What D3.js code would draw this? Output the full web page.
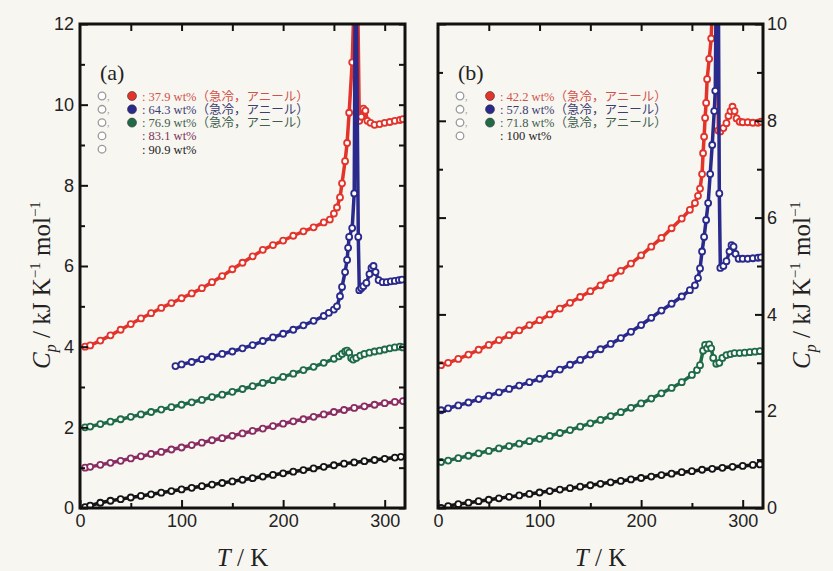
<!DOCTYPE html>
<html>
<head>
<meta charset="utf-8">
<script src="https://cdn.jsdelivr.net/npm/d3@7"></script>
<style>
  body { margin: 0; background: #f8f6f1; }
  svg { font-family: "Liberation Serif", "Times New Roman", Tinos, serif; }
  .jp { font-family: "Liberation Serif", "Times New Roman", "Noto Sans CJK JP", serif; }
</style>
</head>
<body>
<svg id="chart" width="833" height="571"></svg>
<script>
// panel (a) series: [T / K, Cp / kJ K-1 mol-1]
const a379 = [[5,4.0],[10,4.03],[20,4.15],[30,4.28],[40,4.42],[50,4.56],[60,4.7],[70,4.83],[80,4.96],[90,5.08],[100,5.2],[110,5.32],[120,5.45],[130,5.6],[140,5.75],[150,5.92],[160,6.08],[170,6.24],[180,6.4],[190,6.52],[200,6.63],[210,6.75],[220,6.86],[230,6.96],[240,7.08],[246,7.15],[250,7.3],[253,7.45],[256,7.7],[258,8.05],[261,8.6],[263,9.05],[265,9.8],[268,11.05],[271,13.5],[273,13.5],[275,9.6],[277,9.7],[279,9.9],[281,9.85],[283,9.6],[286,9.55],[290,9.5],[295,9.52],[300,9.55],[305,9.57],[310,9.6],[315,9.62],[318,9.64]];
const a643 = [[94,3.52],[100,3.56],[110,3.62],[120,3.69],[130,3.75],[140,3.82],[150,3.88],[160,3.96],[170,4.04],[180,4.14],[190,4.23],[200,4.32],[210,4.42],[220,4.53],[230,4.64],[240,4.76],[245,4.84],[250,4.92],[253,5.0],[256,5.25],[258,5.48],[261,5.85],[263,6.15],[264,6.45],[265,6.72],[268,6.94],[270,7.8],[271,13],[272,13],[274,6.72],[275,5.4],[277,5.45],[279,5.5],[282,5.58],[285,5.8],[287,5.95],[289,6.0],[291,5.85],[294,5.65],[298,5.6],[302,5.6],[306,5.62],[310,5.63],[314,5.65],[317,5.66]];
const a769 = [[5,2.0],[10,2.02],[20,2.08],[30,2.14],[40,2.2],[50,2.26],[60,2.32],[70,2.38],[80,2.44],[90,2.5],[100,2.56],[110,2.62],[120,2.68],[130,2.75],[140,2.81],[150,2.88],[160,2.95],[170,3.02],[180,3.1],[190,3.17],[200,3.25],[210,3.33],[220,3.42],[230,3.5],[240,3.6],[250,3.7],[255,3.76],[258,3.82],[261,3.88],[263,3.9],[265,3.85],[267,3.72],[269,3.68],[272,3.72],[276,3.78],[280,3.82],[285,3.85],[290,3.88],[295,3.9],[300,3.93],[305,3.96],[310,3.98],[315,4.0],[318,3.98]];
const a831 = [[5,1.0],[10,1.02],[20,1.07],[30,1.12],[40,1.17],[50,1.23],[60,1.28],[70,1.34],[80,1.39],[90,1.45],[100,1.5],[110,1.56],[120,1.62],[130,1.68],[140,1.73],[150,1.79],[160,1.85],[170,1.91],[180,1.97],[190,2.03],[200,2.09],[210,2.15],[220,2.2],[230,2.26],[240,2.32],[250,2.38],[260,2.43],[270,2.48],[280,2.52],[290,2.56],[300,2.6],[310,2.63],[318,2.65]];
const a909 = [[5,0.02],[10,0.06],[20,0.13],[30,0.18],[40,0.22],[50,0.26],[60,0.3],[70,0.34],[80,0.38],[90,0.42],[100,0.46],[110,0.5],[120,0.54],[130,0.58],[140,0.62],[150,0.66],[160,0.7],[170,0.74],[180,0.78],[190,0.82],[200,0.86],[210,0.9],[220,0.94],[230,0.98],[240,1.02],[250,1.06],[260,1.1],[270,1.13],[280,1.16],[290,1.19],[300,1.22],[310,1.25],[316,1.27]];

// panel (b) series
const b422 = [[3,2.95],[10,3.0],[20,3.08],[30,3.17],[40,3.27],[50,3.37],[60,3.47],[70,3.57],[80,3.67],[90,3.78],[100,3.88],[110,4.0],[120,4.12],[130,4.24],[140,4.36],[150,4.48],[160,4.6],[170,4.75],[180,4.9],[190,5.05],[200,5.22],[210,5.4],[220,5.58],[230,5.78],[240,5.98],[248,6.16],[253,6.3],[256,6.45],[258,6.6],[260,6.9],[261,7.33],[262,7.67],[263,8.06],[264,8.37],[265,8.86],[267,9.28],[269,9.7],[271,11],[273,11],[275,11],[276,7.8],[278,7.78],[281,7.85],[284,7.95],[286,8.1],[288,8.2],[290,8.29],[292,8.2],[294,8.05],[297,7.98],[300,7.97],[305,7.97],[310,7.96],[315,7.96],[318,7.98]];
const b578 = [[3,2.02],[10,2.06],[20,2.12],[30,2.18],[40,2.25],[50,2.32],[60,2.39],[70,2.46],[80,2.53],[90,2.6],[100,2.67],[110,2.77],[120,2.86],[130,2.96],[140,3.06],[150,3.17],[160,3.28],[170,3.39],[180,3.51],[190,3.64],[200,3.78],[210,3.93],[220,4.08],[230,4.22],[240,4.37],[248,4.5],[253,4.6],[256,4.75],[258,4.95],[260,5.3],[262,5.6],[264,5.95],[266,6.3],[268,6.9],[270,7.5],[272,8.2],[273,8.62],[274,11],[276,11],[277,6.5],[278,4.96],[281,5.0],[284,5.1],[287,5.3],[289,5.43],[291,5.4],[293,5.25],[296,5.15],[300,5.15],[305,5.15],[310,5.16],[315,5.17],[318,5.18]];
const b718 = [[3,0.95],[10,0.98],[20,1.03],[30,1.08],[40,1.13],[50,1.18],[60,1.23],[70,1.28],[80,1.33],[90,1.38],[100,1.43],[110,1.49],[120,1.55],[130,1.61],[140,1.68],[150,1.75],[160,1.82],[170,1.9],[180,1.98],[190,2.07],[200,2.16],[210,2.26],[220,2.37],[230,2.48],[240,2.6],[250,2.75],[255,2.85],[258,2.95],[261,3.25],[263,3.37],[265,3.3],[267,3.38],[269,3.3],[271,3.1],[274,2.98],[277,3.0],[280,3.1],[284,3.16],[288,3.18],[292,3.2],[297,3.2],[302,3.21],[307,3.22],[312,3.23],[317,3.24]];
const b100 = [[3,0.0],[10,0.04],[20,0.08],[30,0.11],[40,0.14],[50,0.17],[60,0.2],[70,0.23],[80,0.26],[90,0.29],[100,0.32],[110,0.35],[120,0.38],[130,0.41],[140,0.44],[150,0.47],[160,0.5],[170,0.53],[180,0.56],[190,0.59],[200,0.62],[210,0.65],[220,0.68],[230,0.71],[240,0.74],[250,0.76],[260,0.79],[270,0.81],[280,0.83],[290,0.85],[300,0.87],[310,0.89],[317,0.9]];

const legendA = [
  {label: ": 37.9 wt%（急冷，アニール）", filled: true},
  {label: ": 64.3 wt%（急冷，アニール）", filled: true},
  {label: ": 76.9 wt%（急冷，アニール）", filled: true},
  {label: ": 83.1 wt%", filled: false},
  {label: ": 90.9 wt%", filled: false}
];
const legendB = [
  {label: ": 42.2 wt%（急冷，アニール）", filled: true},
  {label: ": 57.8 wt%（急冷，アニール）", filled: true},
  {label: ": 71.8 wt%（急冷，アニール）", filled: true},
  {label: ": 100 wt%", filled: false}
];

const red = "#e2342b", blue = "#2a2a8c", green = "#1f6a47", purple = "#8a2d62", black = "#151515";
const textCol = ["#d0524a", "#3b3d72", "#3e5f4e", "#7a3558", "#222"];

const svg = d3.select("#chart");
svg.append("rect").attr("width", 833).attr("height", 571).attr("fill", "#f8f6f1");

function panel(id, x, y, series, colors, legend, side) {
  const g = svg.append("g");
  const [x0, x1] = x.range(), [y0, y1] = y.range();

  g.append("clipPath").attr("id", "clip" + id)
    .append("rect").attr("x", x0).attr("y", y1).attr("width", x1 - x0).attr("height", y0 - y1);

  const line = d3.line().x(d => x(d[0])).y(d => y(d[1]));
  const plot = g.append("g").attr("clip-path", `url(#clip${id})`);
  series.forEach((s, i) => {
    plot.append("path").datum(s).attr("d", line)
      .attr("fill", "none").attr("stroke", colors[i]).attr("stroke-width", 3.5)
      .attr("stroke-linejoin", "round");
    plot.selectAll(null).data(s).join("circle")
      .attr("cx", d => x(d[0])).attr("cy", d => y(d[1])).attr("r", 3)
      .attr("fill", "#fff").attr("stroke", colors[i]).attr("stroke-width", 1.8);
  });

  // frame
  g.append("rect").attr("x", x0).attr("y", y1).attr("width", x1 - x0).attr("height", y0 - y1)
    .attr("fill", "none").attr("stroke", "#111").attr("stroke-width", 3);

  const ymax = y.domain()[1];
  const major = d3.range(0, ymax + 0.1, 2), minor = d3.range(0, ymax + 0.1, 1);
  const style = sel => {
    sel.select(".domain").remove();
    sel.selectAll("line").attr("stroke", "#111").attr("stroke-width", 2);
    sel.selectAll("text").attr("fill", "#222").style("font-size", "18px");
  };

  // bottom
  g.append("g").attr("transform", `translate(0,${y0})`)
    .call(d3.axisBottom(x).tickValues([0, 100, 200, 300]).tickSizeInner(-8).tickSizeOuter(0).tickPadding(6))
    .call(style);
  g.append("g").attr("transform", `translate(0,${y0})`)
    .call(d3.axisBottom(x).tickValues([50, 150, 250]).tickSizeInner(-5).tickSizeOuter(0).tickFormat(""))
    .call(style);
  // top
  g.append("g").attr("transform", `translate(0,${y1})`)
    .call(d3.axisTop(x).tickValues([50, 100, 150, 200, 250, 300]).tickSizeInner(-7).tickSizeOuter(0).tickFormat(""))
    .call(style);

  // left & right
  const lab = side === "left";
  g.append("g").attr("transform", `translate(${x0},0)`)
    .call(d3.axisLeft(y).tickValues(major).tickSizeInner(-8).tickSizeOuter(0).tickPadding(6).tickFormat(lab ? d3.format("d") : ""))
    .call(style);
  g.append("g").attr("transform", `translate(${x0},0)`)
    .call(d3.axisLeft(y).tickValues(minor.filter(v => v % 2)).tickSizeInner(-5).tickSizeOuter(0).tickFormat(""))
    .call(style);
  g.append("g").attr("transform", `translate(${x1},0)`)
    .call(d3.axisRight(y).tickValues(major).tickSizeInner(lab ? -6 : -8).tickSizeOuter(0).tickPadding(4).tickFormat(lab ? "" : d3.format("d")))
    .call(style);
  g.append("g").attr("transform", `translate(${x1},0)`)
    .call(d3.axisRight(y).tickValues(minor.filter(v => v % 2)).tickSizeInner(-6).tickSizeOuter(0).tickFormat(""))
    .call(style);

  // panel label
  g.append("text").attr("x", x0 + 20).attr("y", y1 + 56).text(`(${id})`)
    .style("font-size", "22px").attr("fill", "#222");

  // legend
  const lx = x0 + 22, ly = y1 + 72;
  const leg = g.selectAll("g.leg").data(legend).join("g").attr("class", "leg")
    .attr("transform", (d, i) => `translate(${lx},${ly + i * 13.3})`);
  leg.append("circle").attr("r", 3.8).attr("fill", "#fff").attr("stroke", "#9a9a9a").attr("stroke-width", 1.3);
  leg.filter(d => d.filled).append("text").attr("x", 5).attr("y", 3.5).text(",")
    .style("font-size", "10px").attr("fill", "#999");
  leg.filter(d => d.filled).append("circle").attr("cx", 30).attr("r", 4.5)
    .attr("fill", (d, i) => colors[i]).attr("stroke", "#333").attr("stroke-width", 0.6);
  leg.append("text").attr("class", "jp").attr("x", 40).attr("y", 4.5).text(d => d.label)
    .style("font-size", "12.5px").attr("fill", (d, i) => textCol[i === legend.length - 1 ? 4 : i]);
}

const xa = d3.scaleLinear([0, 320], [80, 405]);
const ya = d3.scaleLinear([0, 12], [508, 24]);
const xb = d3.scaleLinear([0, 320], [438, 763]);
const yb = d3.scaleLinear([0, 10], [508, 24]);

panel("a", xa, ya, [a379, a643, a769, a831, a909], [red, blue, green, purple, black], legendA, "left");
panel("b", xb, yb, [b422, b578, b718, b100], [red, blue, green, black], legendB, "right");

// axis titles
function ytitle(cx) {
  const t = svg.append("text").attr("transform", `translate(${cx},285) rotate(-90)`)
    .attr("text-anchor", "middle").style("font-size", "25px").attr("fill", "#222");
  t.append("tspan").style("font-style", "italic").text("C");
  t.append("tspan").style("font-style", "italic").style("font-size", "16px").attr("dy", 6).text("p");
  t.append("tspan").attr("dy", -6).text(" / kJ K");
  t.append("tspan").style("font-size", "15px").attr("dy", -10).text("−1");
  t.append("tspan").attr("dy", 10).text(" mol");
  t.append("tspan").style("font-size", "15px").attr("dy", -10).text("−1");
}
ytitle(50);
ytitle(810);

[xa, xb].forEach(x => {
  const t = svg.append("text").attr("x", (x.range()[0] + x.range()[1]) / 2).attr("y", 566)
    .attr("text-anchor", "middle").style("font-size", "25px").attr("fill", "#222");
  t.append("tspan").style("font-style", "italic").text("T");
  t.append("tspan").text(" / K");
});
</script>
</body>
</html>
